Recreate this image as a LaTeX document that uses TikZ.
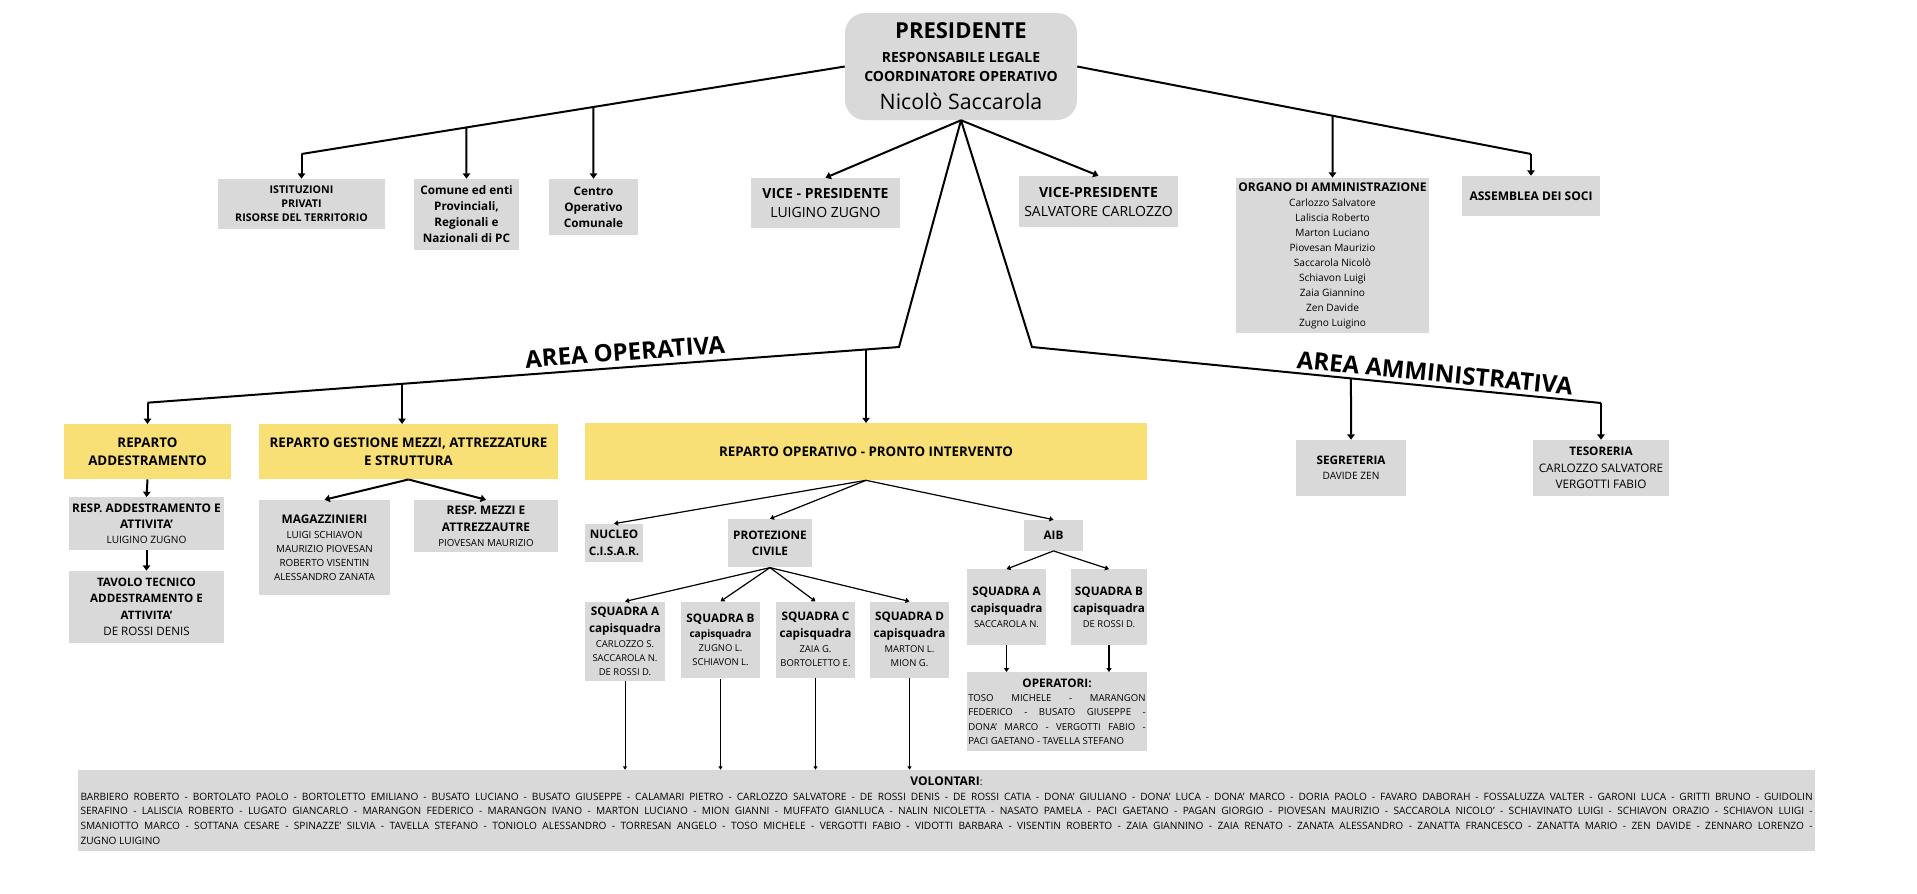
\documentclass[tikz,border=0pt]{standalone}
\usepackage{fontspec}
\setmainfont{Open Sans}
\usepackage{tikz}
\usetikzlibrary{calc}
\usetikzlibrary{arrows.meta}
\usepackage{color}

\definecolor{gris}{HTML}{D9D9D9}
\definecolor{jaune}{HTML}{F8DF76}
\newcommand{\police}[2]{\fontsize{#1}{#2}\selectfont}

\tikzset{
	boite/.style={fill=gris, align=center, inner sep=0pt},
	boitej/.style={fill=jaune, align=center, inner sep=0pt},
	taille/.style 2 args={minimum width=#1*0.75pt, minimum height=#2*0.75pt},
	trait/.style={line width=1.5pt},
	fleche/.style={line width=1.5pt, -{Triangle[width=5.5pt,length=4pt]}},
	flechefine/.style={line width=0.9pt, -{Triangle[width=3.8pt,length=3pt]}},
	flechemini/.style={line width=0.7pt, -{Triangle[width=3pt,length=2.5pt]}},
	titre/.style={font=\police{18}{20}\bfseries, inner sep=0pt}
}

\begin{document}
\begin{tikzpicture}[x=0.75pt,y=-0.75pt]
\useasboundingbox (0,0) rectangle (1917,893);
%					Président :
\node[boite, taille={232}{107}, rounded corners=15pt, font=\police{10.5}{14.25}] (pres) at (961,66.5)
	{{\police{16.5}{20}\bfseries PRESIDENTE}\\[3.75pt]{\bfseries RESPONSABILE LEGALE}\\{\bfseries COORDINATORE OPERATIVO}\\[6.75pt]{\police{16}{20}Nicolò Saccarola}};
%					Boîtes du haut :
\node[boite, taille={167}{50}, font=\police{8}{10.5}\bfseries] (istit) at (301.5,204) {ISTITUZIONI\\PRIVATI\\RISORSE DEL TERRITORIO};
\node[boite, taille={105}{71}, font=\police{8.8}{12}\bfseries] (comune) at (466.5,214.5) {Comune ed enti\\Provinciali,\\Regionali e\\Nazionali di PC};
\node[boite, taille={89}{56}, font=\police{8.8}{12}\bfseries] (centro) at (593.5,207) {Centro\\Operativo\\Comunale};
\node[boite, taille={149}{50}, font=\police{10.5}{14.25}] (vice1) at (825.5,203) {{\bfseries VICE - PRESIDENTE}\\LUIGINO ZUGNO};
\node[boite, taille={159}{51}, font=\police{10.5}{14.25}] (vice2) at (1098.5,201.5) {{\bfseries VICE-PRESIDENTE}\\SALVATORE CARLOZZO};
\node[boite, taille={193}{155}, font=\police{7.6}{11.25}] (organo) at (1332.5,255.5)
	{{\police{9}{11.25}\bfseries ORGANO DI AMMINISTRAZIONE}\\Carlozzo Salvatore\\Laliscia Roberto\\Marton Luciano\\Piovesan Maurizio\\Saccarola Nicolò\\Schiavon Luigi\\Zaia Giannino\\Zen Davide\\Zugno Luigino};
\node[boite, taille={138}{40}, font=\police{9}{12}\bfseries] (assemblea) at (1531,196) {ASSEMBLEA DEI SOCI};
%					Area operativa :
\node[boitej, taille={167}{55}, font=\police{10}{14}\bfseries] (readd) at (147.5,451.7) {REPARTO\\ADDESTRAMENTO};
\node[boitej, taille={299}{55}, font=\police{10}{14}\bfseries] (gestione) at (408.5,451.7) {REPARTO GESTIONE MEZZI, ATTREZZATURE\\E STRUTTURA};
\node[boitej, taille={562}{56.7}, font=\police{10}{14}\bfseries] (rop) at (866,451.7) {REPARTO OPERATIVO - PRONTO INTERVENTO};
\node[boite, taille={155}{52.7}, font=\police{7.6}{11}] (respadd) at (146.5,523.7)
	{{\police{8.9}{11}\bfseries RESP. ADDESTRAMENTO E}\\[1.5pt]{\police{8.9}{11}\bfseries ATTIVITA'}\\LUIGINO ZUGNO};
\node[boite, taille={155}{71.7}, font=\police{8.7}{12.25}] (tavolo) at (146.5,606.8)
	{{\bfseries TAVOLO TECNICO}\\{\bfseries ADDESTRAMENTO E}\\{\bfseries ATTIVITA'}\\DE ROSSI DENIS};
\node[boite, taille={131}{95}, font=\police{7.4}{10.5}] (magaz) at (324.5,547.5)
	{{\police{8.9}{10.5}\bfseries MAGAZZINIERI}\\[0.75pt]LUIGI SCHIAVON\\MAURIZIO PIOVESAN\\ROBERTO VISENTIN\\ALESSANDRO ZANATA};
\node[boite, taille={144}{52.3}, font=\police{7.3}{11.25}] (respmezzi) at (486,526.2)
	{{\police{8.9}{11.25}\bfseries RESP. MEZZI E}\\[1pt]{\police{8.9}{11.25}\bfseries ATTREZZAUTRE}\\PIOVESAN MAURIZIO};
\node[boite, taille={58}{37.7}, font=\police{8.8}{12.5}\bfseries] (nucleo) at (614,542.8) {NUCLEO\\C.I.S.A.R.};
\node[boite, taille={84}{48.3}, font=\police{8.8}{12.5}\bfseries] (prot) at (770,543.2) {PROTEZIONE\\CIVILE};
\node[boite, taille={59}{30.7}, font=\police{8.8}{12}\bfseries] (aib) at (1053.5,535.3) {AIB};
\node[boite, taille={80}{79}, font=\police{7.1}{10.5}] (sqA) at (625,641.2)
	{{\police{8.8}{10.5}\bfseries SQUADRA A}\\[2.25pt]{\police{8.8}{10.5}\bfseries capisquadra}\\[0.75pt]CARLOZZO S.\\SACCAROLA N.\\DE ROSSI D.};
\node[boite, taille={79}{76.7}, font=\police{7.1}{10.5}] (sqB) at (720.5,640)
	{{\police{8.8}{10.5}\bfseries SQUADRA B}\\[0.75pt]{\police{7.6}{10.5}\bfseries capisquadra}\\ZUGNO L.\\SCHIAVON L.};
\node[boite, taille={79}{76}, font=\police{7.1}{10.5}] (sqC) at (815.5,639.7)
	{{\police{8.8}{10.5}\bfseries SQUADRA C}\\[2.25pt]{\police{8.8}{10.5}\bfseries capisquadra}\\[0.75pt]ZAIA G.\\BORTOLETTO E.};
\node[boite, taille={79}{76}, font=\police{7.1}{10.5}] (sqD) at (909.5,639.7)
	{{\police{8.8}{10.5}\bfseries SQUADRA D}\\[2.25pt]{\police{8.8}{10.5}\bfseries capisquadra}\\[0.75pt]MARTON L.\\MION G.};
\node[boite, taille={79}{75.7}, font=\police{7.1}{11.25}] (aibA) at (1006.5,607.2)
	{{\police{8.8}{11.25}\bfseries SQUADRA A}\\[1.25pt]{\police{8.8}{11.25}\bfseries capisquadra}\\SACCAROLA N.};
\node[boite, taille={76}{75.7}, font=\police{7.1}{11.25}] (aibB) at (1109,607.2)
	{{\police{8.8}{11.25}\bfseries SQUADRA B}\\[1.25pt]{\police{8.8}{11.25}\bfseries capisquadra}\\DE ROSSI D.};
\node[boite, taille={180}{78.3}, font=\police{7.2}{10.75}] (oper) at (1057,711.5)
	{{\police{8.8}{10.75}\bfseries OPERATORI:}\\
	\hbox to 133pt{TOSO MICHELE - MARANGON}\\
	\hbox to 133pt{FEDERICO - BUSATO GIUSEPPE -}\\
	\hbox to 133pt{DONA' MARCO - VERGOTTI FABIO -}\\
	\hbox to 133pt{PACI GAETANO - TAVELLA STEFANO\hfil}};
%					Area amministrativa :
\node[boite, taille={110}{56}, font=\police{7.6}{11.5}] (segre) at (1351,468) {{\police{8.8}{11.5}\bfseries SEGRETERIA}\\DAVIDE ZEN};
\node[boite, taille={136}{56}, font=\police{8.8}{12.4}] (teso) at (1601,468) {{\bfseries TESORERIA}\\CARLOZZO SALVATORE\\VERGOTTI FABIO};
%					Volontari :
\node[boite, taille={1737}{80.7}, font=\police{7.6}{10.9}] (volontari) at (946.5,810.3)
	{{\police{9}{10.9}\bfseries VOLONTARI}:\\[0.5pt]
	\hbox to 1299pt{BARBIERO ROBERTO - BORTOLATO PAOLO - BORTOLETTO EMILIANO - BUSATO LUCIANO - BUSATO GIUSEPPE  - CALAMARI PIETRO - CARLOZZO SALVATORE - DE ROSSI DENIS - DE ROSSI CATIA - DONA' GIULIANO - DONA' LUCA - DONA' MARCO - DORIA PAOLO - FAVARO DABORAH - FOSSALUZZA VALTER - GARONI LUCA - GRITTI BRUNO - GUIDOLIN}\\
	\hbox to 1299pt{SERAFINO - LALISCIA ROBERTO - LUGATO GIANCARLO - MARANGON FEDERICO - MARANGON IVANO - MARTON LUCIANO - MION GIANNI - MUFFATO GIANLUCA - NALIN NICOLETTA - NASATO PAMELA - PACI GAETANO - PAGAN GIORGIO - PIOVESAN MAURIZIO - SACCAROLA NICOLO' - SCHIAVINATO LUIGI - SCHIAVON ORAZIO - SCHIAVON LUIGI -}\\
	\hbox to 1299pt{SMANIOTTO MARCO - SOTTANA CESARE - SPINAZZE' SILVIA - TAVELLA STEFANO - TONIOLO ALESSANDRO - TORRESAN ANGELO - TOSO MICHELE - VERGOTTI FABIO - VIDOTTI BARBARA - VISENTIN ROBERTO - ZAIA GIANNINO - ZAIA RENATO - ZANATA ALESSANDRO - ZANATTA FRANCESCO - ZANATTA MARIO - ZEN DAVIDE - ZENNARO LORENZO -}\\
	\hbox to 1299pt{ZUGNO LUIGINO\hfil}};
%					Titres des aires :
\node[titre, rotate=4.4] (areaop) at (625,352) {AREA OPERATIVA};
\node[titre, rotate=-5.6] (areaadm) at (1435,373) {AREA AMMINISTRATIVA};
%					Coins des traits :
\coordinate (coinG) at (301.5,154);
\coordinate (coinD) at (1531,154);
\coordinate (coinVG) at (899,347);
\coordinate (coinOG) at (147.5,402.7);
\coordinate (coinVD) at (1032,347);
\coordinate (coinAD) at (1601,403);
%					Tracé du haut :
\draw[trait] (pres.west) -- coordinate[pos=0.4627] (bCentro) coordinate[pos=0.6964] (bComune) (coinG);
\draw[fleche] (coinG) -- (istit.north);
\draw[fleche] (bComune) -- (comune.north);
\draw[fleche] (bCentro) -- (centro.north);
\draw[trait] (pres.east) -- coordinate[pos=0.5628] (bOrgano) (coinD);
\draw[fleche] (coinD) -- (assemblea.north);
\draw[fleche] (bOrgano) -- (organo.north);
\draw[fleche] (pres.south) -- (vice1.north);
\draw[fleche] (pres.south) -- (vice2.north);
%					Tracé des aires :
\draw[trait] (pres.south) -- (coinVG) -- coordinate[pos=0.0439] (bRop) coordinate[pos=0.6613] (bGest) (coinOG);
\draw[fleche] (coinOG) -- (readd.north);
\draw[fleche] (bGest) -- (bGest |- gestione.north);
\draw[fleche] (bRop) -- (bRop |- rop.north);
\draw[trait] (pres.south) -- (coinVD) -- coordinate[pos=0.5606] (bSegre) (coinAD);
\draw[fleche] (coinAD) -- (teso.north);
\draw[fleche] (bSegre) -- (segre.north);
%					Reparti :
\draw[fleche] (readd.south) -- (respadd.north);
\draw[fleche] (respadd.south) -- (tavolo.north);
\draw[fleche] (gestione.south) -- (magaz.north);
\draw[fleche] (gestione.south) -- (respmezzi.north);
\draw[flechefine] (rop.south) -- (nucleo.north);
\draw[flechefine] (rop.south) -- (prot.north);
\draw[flechefine] (rop.south) -- (aib.north);
\draw[flechefine] (prot.south) -- (sqA.north);
\draw[flechefine] (prot.south) -- (sqB.north);
\draw[flechefine] (prot.south) -- (sqC.north);
\draw[flechefine] (prot.south) -- (sqD.north);
\draw[flechefine] (aib.south) -- (aibA.north);
\draw[flechefine] (aib.south) -- (aibB.north);
\draw[flechefine] (aibA.south) -- (aibA.south |- oper.north);
\draw[flechefine] (aibB.south) -- (aibB.south |- oper.north);
%					Squadre vers volontari :
\draw[flechemini] (sqA.south) -- (sqA.south |- volontari.north);
\draw[flechemini] (sqB.south) -- (sqB.south |- volontari.north);
\draw[flechemini] (sqC.south) -- (sqC.south |- volontari.north);
\draw[flechemini] (sqD.south) -- (sqD.south |- volontari.north);
\end{tikzpicture}
\end{document}
